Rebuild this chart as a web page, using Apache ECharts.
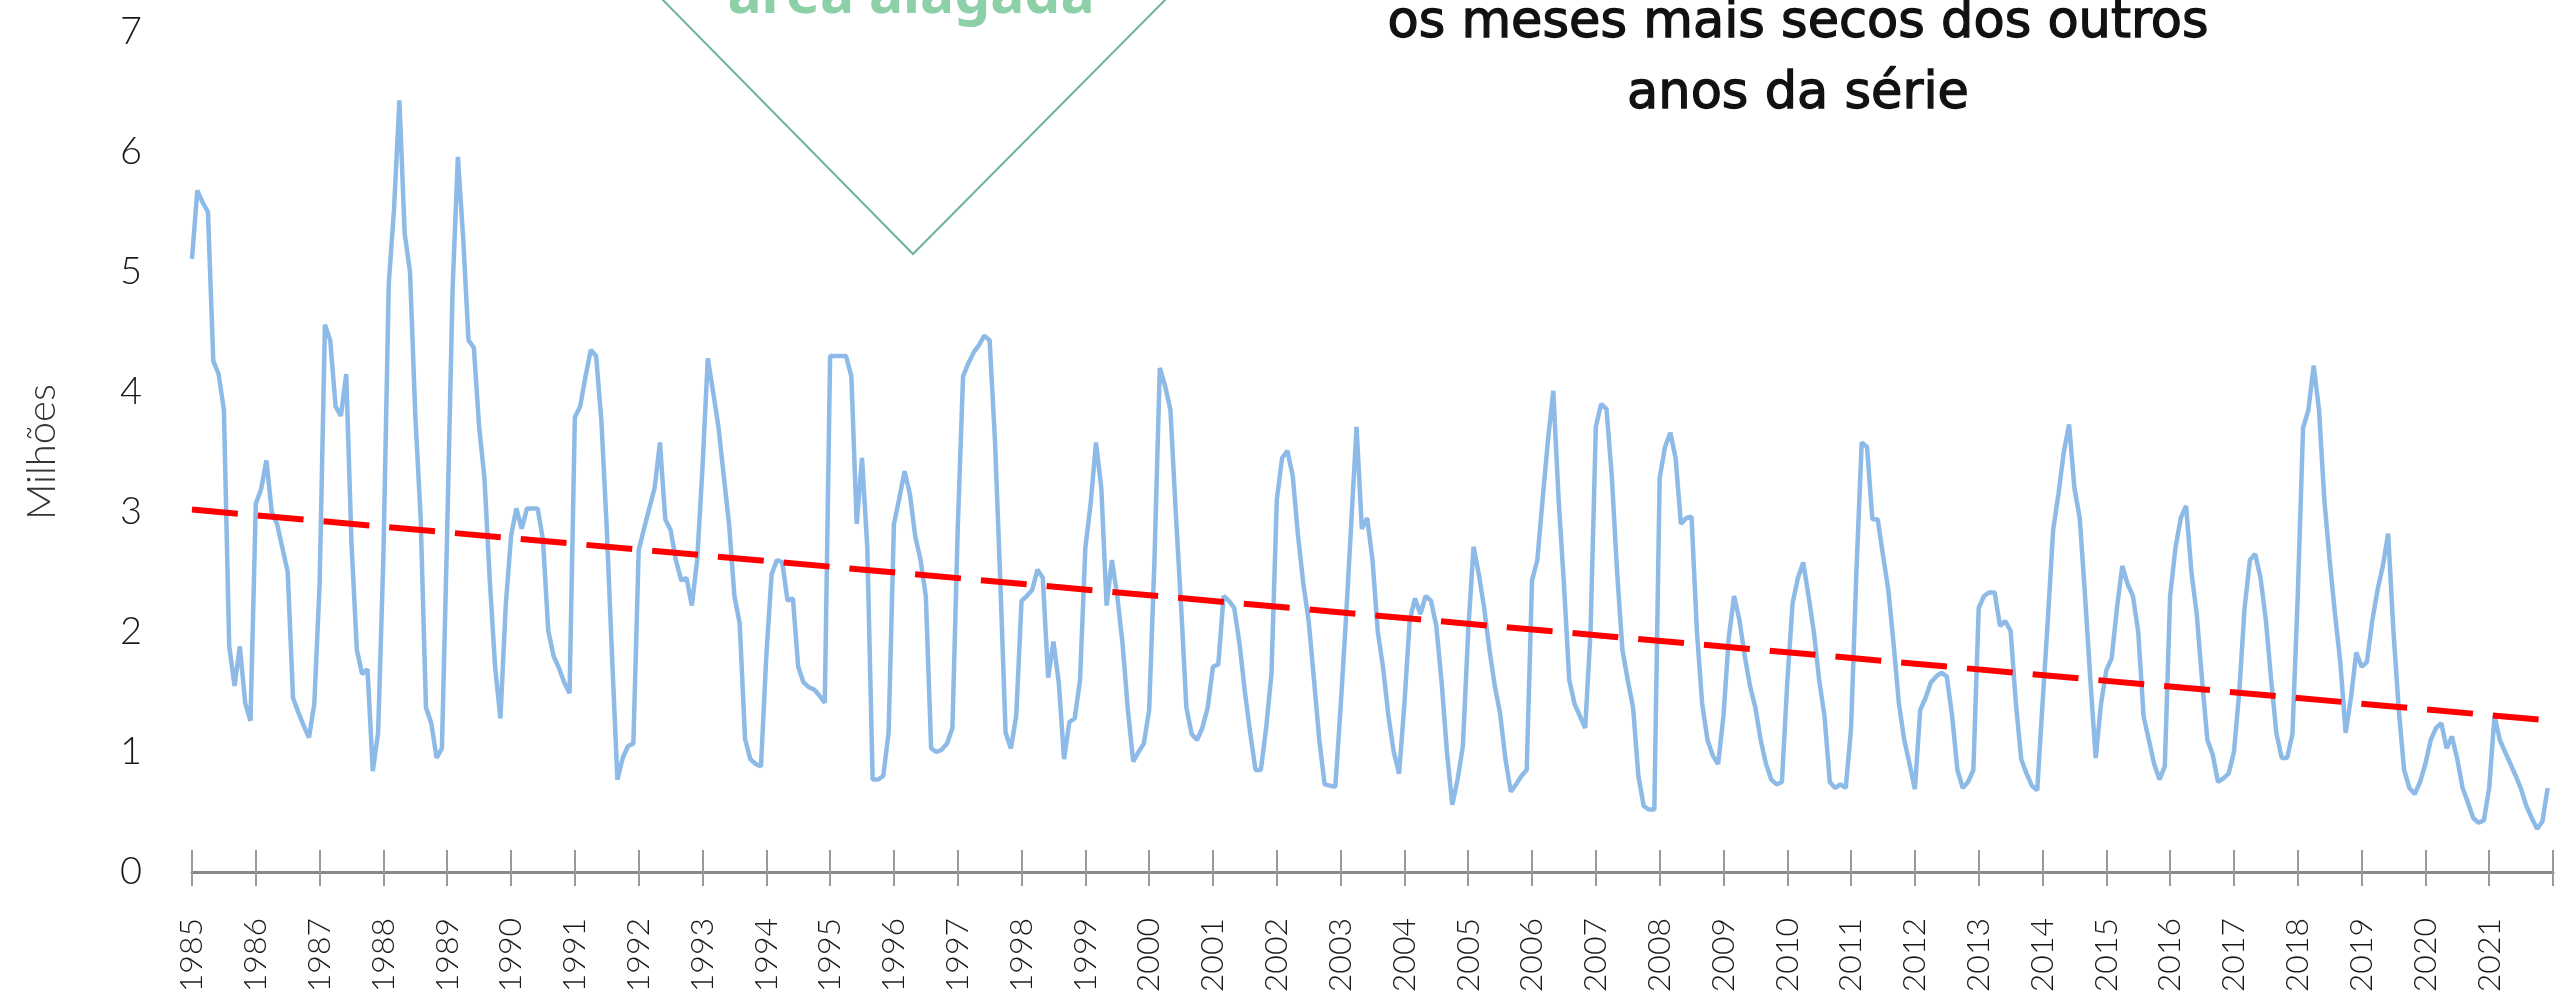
<!DOCTYPE html>
<html>
<head>
<meta charset="utf-8">
<script src="https://cdn.jsdelivr.net/npm/echarts@6/dist/echarts.min.js"></script>
<style>
  html, body { margin: 0; padding: 0; background: #ffffff; }
  #chart { width: 2565px; height: 1000px; }
</style>
</head>
<body>
<div id="chart"></div>
<script>
// Monthly flooded area (millions), Jan..Dec of each year
const y1985 = [5.11, 5.68, 5.58, 5.5, 4.26, 4.15, 3.85, 1.88, 1.55, 1.88, 1.41, 1.26];
const y1986 = [3.07, 3.19, 3.43, 3.0, 2.9, 2.7, 2.5, 1.45, 1.33, 1.22, 1.12, 1.4];
const y1987 = [2.4, 4.56, 4.43, 3.88, 3.8, 4.15, 2.73, 1.85, 1.65, 1.69, 0.84, 1.16];
const y1988 = [2.64, 4.9, 5.53, 6.43, 5.32, 5.0, 3.8, 2.95, 1.37, 1.24, 0.95, 1.03];
const y1989 = [2.86, 4.85, 5.96, 5.28, 4.43, 4.37, 3.71, 3.28, 2.43, 1.71, 1.28, 2.22];
const y1990 = [2.8, 3.03, 2.86, 3.03, 3.03, 3.03, 2.77, 2.01, 1.8, 1.7, 1.58, 1.49];
const y1991 = [3.79, 3.88, 4.13, 4.35, 4.3, 3.75, 2.86, 1.79, 0.77, 0.95, 1.05, 1.07];
const y1992 = [2.68, 2.86, 3.03, 3.2, 3.58, 2.94, 2.85, 2.6, 2.43, 2.45, 2.22, 2.6];
const y1993 = [3.37, 4.28, 4.0, 3.71, 3.3, 2.9, 2.3, 2.07, 1.11, 0.94, 0.9, 0.88];
const y1994 = [1.8, 2.48, 2.6, 2.58, 2.26, 2.28, 1.71, 1.58, 1.54, 1.52, 1.47, 1.41];
const y1995 = [4.3, 4.3, 4.3, 4.3, 4.13, 2.9, 3.45, 2.7, 0.77, 0.77, 0.8, 1.16];
const y1996 = [2.9, 3.11, 3.34, 3.15, 2.8, 2.6, 2.3, 1.03, 1.0, 1.02, 1.07, 1.2];
const y1997 = [2.86, 4.13, 4.24, 4.33, 4.39, 4.47, 4.43, 3.6, 2.43, 1.16, 1.03, 1.3];
const y1998 = [2.26, 2.3, 2.35, 2.52, 2.45, 1.62, 1.92, 1.58, 0.94, 1.25, 1.28, 1.6];
const y1999 = [2.7, 3.07, 3.58, 3.2, 2.22, 2.6, 2.3, 1.9, 1.35, 0.92, 1.0, 1.07];
const y2000 = [1.35, 2.6, 4.2, 4.05, 3.85, 3.0, 2.22, 1.37, 1.15, 1.1, 1.2, 1.37];
const y2001 = [1.71, 1.73, 2.3, 2.26, 2.2, 1.9, 1.5, 1.16, 0.85, 0.85, 1.2, 1.65];
const y2002 = [3.1, 3.45, 3.51, 3.3, 2.8, 2.4, 2.09, 1.6, 1.1, 0.73, 0.72, 0.71];
const y2003 = [1.37, 2.1, 2.9, 3.71, 2.86, 2.95, 2.6, 2.0, 1.7, 1.3, 1.0, 0.82];
const y2004 = [1.4, 2.1, 2.28, 2.15, 2.3, 2.26, 2.05, 1.58, 1.0, 0.56, 0.77, 1.05];
const y2005 = [2.01, 2.71, 2.48, 2.2, 1.85, 1.55, 1.32, 0.94, 0.67, 0.73, 0.8, 0.85];
const y2006 = [2.43, 2.6, 3.11, 3.6, 4.01, 3.1, 2.4, 1.6, 1.4, 1.3, 1.2, 2.0];
const y2007 = [3.71, 3.9, 3.86, 3.3, 2.5, 1.85, 1.6, 1.37, 0.8, 0.55, 0.52, 0.52];
const y2008 = [3.28, 3.54, 3.66, 3.45, 2.9, 2.95, 2.96, 2.01, 1.4, 1.1, 0.97, 0.9];
const y2009 = [1.3, 1.95, 2.3, 2.1, 1.8, 1.55, 1.37, 1.1, 0.9, 0.77, 0.73, 0.75];
const y2010 = [1.58, 2.24, 2.45, 2.58, 2.3, 2.0, 1.6, 1.3, 0.75, 0.7, 0.73, 0.7];
const y2011 = [1.2, 2.5, 3.58, 3.54, 2.94, 2.94, 2.64, 2.35, 1.9, 1.4, 1.1, 0.9];
const y2012 = [0.69, 1.35, 1.45, 1.58, 1.63, 1.66, 1.63, 1.3, 0.85, 0.7, 0.75, 0.85];
const y2013 = [2.2, 2.3, 2.33, 2.33, 2.05, 2.09, 2.01, 1.4, 0.94, 0.82, 0.72, 0.68];
const y2014 = [1.4, 2.1, 2.85, 3.15, 3.5, 3.73, 3.2, 2.95, 2.3, 1.6, 0.95, 1.4];
const y2015 = [1.68, 1.78, 2.2, 2.55, 2.4, 2.3, 2.0, 1.3, 1.1, 0.9, 0.77, 0.88];
const y2016 = [2.3, 2.7, 2.95, 3.05, 2.5, 2.15, 1.6, 1.1, 0.98, 0.75, 0.78, 0.82];
const y2017 = [1.0, 1.5, 2.2, 2.6, 2.65, 2.45, 2.1, 1.6, 1.15, 0.95, 0.95, 1.15];
const y2018 = [2.3, 3.7, 3.85, 4.22, 3.85, 3.1, 2.6, 2.15, 1.75, 1.16, 1.45, 1.83];
const y2019 = [1.71, 1.75, 2.09, 2.35, 2.55, 2.82, 2.0, 1.35, 0.85, 0.7, 0.65, 0.75];
const y2020 = [0.9, 1.1, 1.2, 1.24, 1.03, 1.13, 0.94, 0.7, 0.58, 0.45, 0.41, 0.43];
const y2021 = [0.7, 1.3, 1.1, 1.0, 0.9, 0.8, 0.69, 0.55, 0.45, 0.36, 0.42, 0.7];

const years = [1985, 1986, 1987, 1988, 1989, 1990, 1991, 1992, 1993, 1994, 1995, 1996,
  1997, 1998, 1999, 2000, 2001, 2002, 2003, 2004, 2005, 2006, 2007, 2008, 2009, 2010,
  2011, 2012, 2013, 2014, 2015, 2016, 2017, 2018, 2019, 2020, 2021];
const yearValues = [y1985, y1986, y1987, y1988, y1989, y1990, y1991, y1992, y1993, y1994,
  y1995, y1996, y1997, y1998, y1999, y2000, y2001, y2002, y2003, y2004, y2005, y2006,
  y2007, y2008, y2009, y2010, y2011, y2012, y2013, y2014, y2015, y2016, y2017, y2018,
  y2019, y2020, y2021];

// Linear trend line end points (start of 1985, start of 2022)
const trendYears = [1985, 2022];
const trendValues = [3.02, 1.26];

const yTicks = [0, 1, 2, 3, 4, 5, 6, 7];
const axisStart = 1985, axisEnd = 2022;

const series1 = [];
years.forEach((yr, i) => {
  yearValues[i].forEach((v, m) => series1.push([yr + m / 12, v]));
});
const trendData = trendYears.map((y, i) => [y, trendValues[i]]);

const chart = echarts.init(document.getElementById('chart'), null, { renderer: 'canvas' });
const labelFont = 'Lato, "Noto Sans", sans-serif';

chart.setOption({
  backgroundColor: '#ffffff',
  animation: false,
  grid: { left: 192, right: 12, top: 32, bottom: 128 },
  xAxis: [
    {
      type: 'value', min: axisStart, max: axisEnd, interval: 1,
      axisLine: { show: true, lineStyle: { color: '#8a8a8a', width: 3 } },
      axisTick: { show: true, length: 14, lineStyle: { color: '#9a9a9a', width: 2 } },
      splitLine: { show: false },
      axisLabel: {
        rotate: 90, margin: 46, fontSize: 32, color: '#1a1a1a', fontFamily: labelFont, fontWeight: 300,
        formatter: v => (v >= axisEnd ? '' : String(v))
      }
    },
    {
      type: 'value', min: axisStart, max: axisEnd, interval: 1, position: 'bottom',
      axisLine: { show: false },
      axisTick: { show: true, inside: true, length: 22, lineStyle: { color: '#9a9a9a', width: 2 } },
      axisLabel: { show: false },
      splitLine: { show: false }
    }
  ],
  yAxis: {
    type: 'value', min: yTicks[0], max: yTicks[yTicks.length - 1], interval: 1,
    axisLine: { show: false }, axisTick: { show: false }, splitLine: { show: false },
    axisLabel: { fontSize: 38, color: '#1a1a1a', margin: 50, fontFamily: labelFont, fontWeight: 300 },
    name: 'Milhões', nameLocation: 'middle', nameRotate: 90, nameGap: 130,
    nameTextStyle: { fontSize: 40, color: '#333', fontFamily: labelFont, fontWeight: 300 }
  },
  series: [
    {
      type: 'line', xAxisIndex: 0, data: series1, showSymbol: false, smooth: false,
      lineStyle: { color: '#8dbae6', width: 4.5 }, z: 2
    },
    {
      type: 'line', xAxisIndex: 0, data: trendData, showSymbol: false,
      lineStyle: { color: '#ff0000', width: 6, type: [46, 20] }, z: 3
    }
  ],
  graphic: [
    {
      type: 'polyline', z: 10,
      shape: { points: [[659, -4], [913, 254], [1169, -4]] },
      style: { stroke: '#6db593', lineWidth: 2, fill: null }
    },
    {
      type: 'text', z: 10, x: 911, y: -3,
      style: {
        text: 'área alagada', fill: '#8dd0a7', align: 'center', verticalAlign: 'middle',
        font: 'bold 57px "Noto Sans", Lato, sans-serif'
      }
    },
    {
      type: 'text', z: 10, x: 1798, y: -12,
      style: {
        text: 'os meses mais secos dos outros\nanos da série', fill: '#111', align: 'center',
        verticalAlign: 'top', lineHeight: 71,
        stroke: '#111', lineWidth: 1.3,
        font: '51px "DejaVu Sans", "Noto Sans", sans-serif'
      }
    }
  ]
});
</script>
</body>
</html>
